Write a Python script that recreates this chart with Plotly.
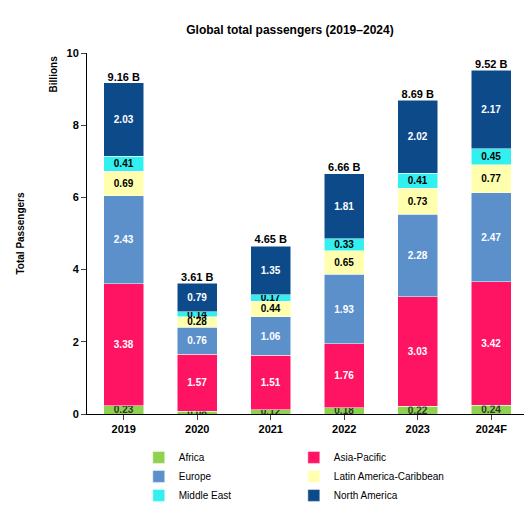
import plotly.graph_objects as go

years = ["2019", "2020", "2021", "2022", "2023", "2024F"]
africa = [0.23, 0.08, 0.12, 0.18, 0.22, 0.24]
asia = [3.38, 1.57, 1.51, 1.76, 3.03, 3.42]
europe = [2.43, 0.76, 1.06, 1.93, 2.28, 2.47]
latam = [0.69, 0.28, 0.44, 0.65, 0.73, 0.77]
mideast = [0.41, 0.14, 0.17, 0.33, 0.41, 0.45]
namerica = [2.03, 0.79, 1.35, 1.81, 2.02, 2.17]
totals = [9.16, 3.61, 4.65, 6.66, 8.69, 9.52]

series = [
    ("Africa", africa, "#8fd24f", "#333333"),
    ("Asia-Pacific", asia, "#ff1463", "white"),
    ("Europe", europe, "#5b90ca", "white"),
    ("Latin America-Caribbean", latam, "#ffffad", "black"),
    ("Middle East", mideast, "#33f0f0", "black"),
    ("North America", namerica, "#0d4a8a", "white"),
]
F = "Liberation Sans Narrow, Arial Narrow, sans-serif"
fig = go.Figure()
for name, vals, col, tc in series:
    fig.add_trace(go.Bar(
        x=years, y=vals, name=name, marker=dict(color=col, line=dict(color="white", width=0.5)),
        text=[f"{v:.2f}" for v in vals], textposition="inside", insidetextanchor="middle",
        texttemplate="<b>%{text}</b>",
        textfont=dict(color=tc, size=10, family=F), constraintext="none", width=0.55))
fig.add_trace(go.Scatter(x=years, y=totals, mode="text", text=[f"<b>{t:.2f} B</b>" for t in totals],
                         textposition="top center", textfont=dict(size=11, family=F, color="black"),
                         showlegend=False, cliponaxis=False))
fig.update_layout(
    barmode="stack", width=532, height=514, plot_bgcolor="white", paper_bgcolor="white",
    font=dict(family=F, size=12, color="black"),
    title=dict(text="<b>Global total passengers (2019–2024)</b>", x=0.53, y=0.965, font=dict(size=12)),
    margin=dict(l=62, r=12, t=45, b=64),
    legend=dict(orientation="h", x=0.47, xanchor="center", y=-0.08, font=dict(size=10),
                traceorder="normal", itemwidth=30, tracegroupgap=0),
    xaxis=dict(showline=True, linecolor="black", tickfont=dict(size=11), ticks="outside",
               tickprefix="<b>", ticksuffix="</b>"),
    yaxis=dict(range=[0, 10], dtick=2, showline=True, linecolor="black", ticks="outside",
               showgrid=False, tickfont=dict(size=11), tickprefix="<b>", ticksuffix="</b>",
               title=dict(text="<b>Total Passengers</b>", standoff=40, font=dict(size=10))),
    annotations=[dict(text="<b>Billions</b>", x=-0.075, y=1.0, xref="paper", yref="paper",
                      textangle=-90, showarrow=False, xanchor="center", yanchor="top", font=dict(size=10))],
)
fig.write_html("out.html")
